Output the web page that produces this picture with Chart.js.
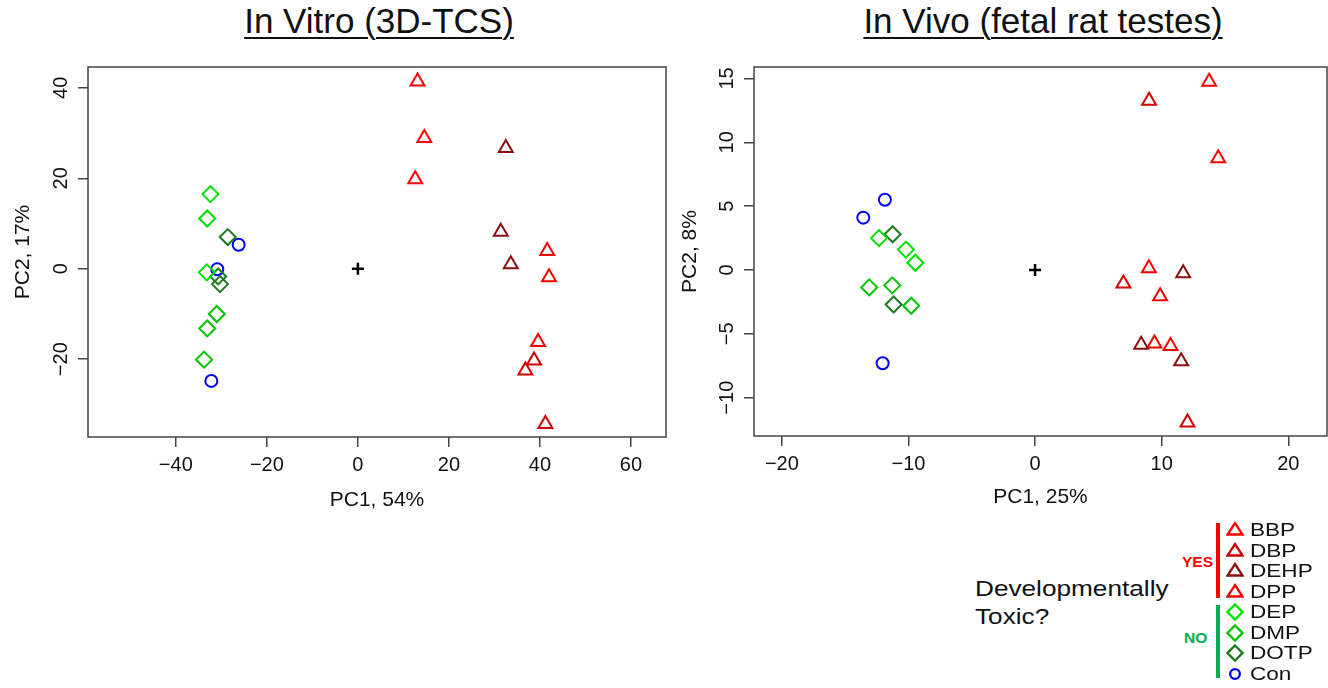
<!DOCTYPE html>
<html>
<head>
<meta charset="utf-8">
<script src="https://cdn.jsdelivr.net/npm/chart.js@4.4.0/dist/chart.umd.min.js"></script>
<style>
  body { margin: 0; background: #fff; width: 1328px; height: 688px; position: relative; overflow: hidden;
         font-family: "Liberation Sans", Arial, sans-serif; color: #111; }
  canvas { position: absolute; top: 0; }
  .title { position: absolute; top: 1px; font-size: 35px; line-height: 40px; white-space: nowrap;
           text-decoration: underline; text-decoration-thickness: 2px; text-underline-offset: 4px;
           transform: translateX(-50%); }
  .question { position: absolute; left: 975px; top: 575px; font-size: 22px; line-height: 28px;
              transform: scaleX(1.19); transform-origin: left top; }
  .bar { position: absolute; width: 4px; }
  .tag { position: absolute; font-weight: bold; font-size: 15.5px; line-height: 18px; }
  .lg-row { position: absolute; left: 1226px; height: 22px; display: flex; align-items: center; }
  .lg-row span { display: inline-block; margin-left: 6px; font-size: 18.5px; line-height: 22px;
                 transform: scaleX(1.22); transform-origin: left center; }
</style>
</head>
<body>
<div class="title" style="left:379px">In Vitro (3D-TCS)</div>
<div class="title" style="left:1043px">In Vivo (fetal rat testes)</div>
<canvas id="vitro" width="680" height="520" style="left:0"></canvas>
<canvas id="vivo" width="648" height="520" style="left:680px"></canvas>

<div class="question">Developmentally<br>Toxic?</div>
<div class="bar" style="left:1216px;top:523px;height:75px;background:#ff0000"></div>
<div class="bar" style="left:1216px;top:605px;height:73px;background:#00b050"></div>
<div class="tag" style="left:1182px;top:553px;color:#ff0000">YES</div>
<div class="tag" style="left:1184px;top:629px;color:#00b050">NO</div>
<div id="legend"></div>

<script>
// PCA scores, [PC1, PC2] per replicate
const groups = ['BBP', 'DBP', 'DEHP', 'DPP', 'DEP', 'DMP', 'DOTP', 'Con'];

const vitroBBP  = [[13.1, 41.4], [14.6, 28.9], [12.6, 19.8]];
const vitroDBP  = [[38.7, -20.3], [36.8, -22.5], [41.2, -34.3]];
const vitroDEHP = [[32.5, 26.7], [31.4, 8.2], [33.6, 1.0]];
const vitroDPP  = [[41.6, 3.9], [42.0, -1.9], [39.6, -16.2]];
const vitroDEP  = [[-32.4, 16.5], [-33.1, 11.1], [-33.2, -0.8]];
const vitroDMP  = [[-31.0, -10.0], [-33.1, -13.2], [-33.8, -20.1]];
const vitroDOTP = [[-28.6, 7.0], [-30.7, -1.7], [-30.3, -3.4]];
const vitroCon  = [[-26.2, 5.3], [-30.9, -0.1], [-32.2, -24.8]];

const vivoBBP  = [[13.75, 14.75], [14.47, 8.75], [8.99, 0.13]];
const vivoDBP  = [[9.01, 13.25], [6.98, -1.05], [12.04, -11.95]];
const vivoDEHP = [[11.7, -0.25], [8.38, -5.85], [11.54, -7.15]];
const vivoDPP  = [[9.88, -2.05], [9.43, -5.75], [10.7, -5.95]];
const vivoDEP  = [[-12.33, 2.5], [-10.2, 1.6], [-9.46, 0.57]];
const vivoDMP  = [[-13.1, -1.36], [-11.28, -1.2], [-9.78, -2.8]];
const vivoDOTP = [[-11.25, 2.8], [-11.17, -2.7]];
const vivoCon  = [[-11.86, 5.5], [-13.57, 4.1], [-12.04, -7.3]];

const origin = [[0, 0]];

const vitroXTicks = [-40, -20, 0, 20, 40, 60];
const vitroYTicks = [-20, 0, 20, 40];
const vivoXTicks = [-20, -10, 0, 10, 20];
const vivoYTicks = [-10, -5, 0, 5, 10, 15];

const vitroXRange = [-59.3, 67.7];
const vitroYRange = [-37.2, 44.6];
const vivoXRange = [-22.2, 23.06];
const vivoYRange = [-13.0, 15.9];

// marker look per group
const style = {
  BBP:  { color: '#ff0000', shape: 'triangle' },
  DBP:  { color: '#d10000', shape: 'triangle' },
  DEHP: { color: '#8b0f0f', shape: 'triangle' },
  DPP:  { color: '#f50000', shape: 'triangle' },
  DEP:  { color: '#00e000', shape: 'rectRot' },
  DMP:  { color: '#00c400', shape: 'rectRot' },
  DOTP: { color: '#1e7a1e', shape: 'rectRot' },
  Con:  { color: '#0000ff', shape: 'circle' }
};
const radius = { triangle: 8, rectRot: 8, circle: 6 };

const vitroSets = { BBP: vitroBBP, DBP: vitroDBP, DEHP: vitroDEHP, DPP: vitroDPP,
                    DEP: vitroDEP, DMP: vitroDMP, DOTP: vitroDOTP, Con: vitroCon };
const vivoSets = { BBP: vivoBBP, DBP: vivoDBP, DEHP: vivoDEHP, DPP: vivoDPP,
                   DEP: vivoDEP, DMP: vivoDMP, DOTP: vivoDOTP, Con: vivoCon };

const FONT = '"Liberation Sans", Arial, sans-serif';
const fmt = v => v < 0 ? '\u2212' + Math.abs(v) : String(v);

const toPoints = arr => arr.map(p => ({ x: p[0], y: p[1] }));

function buildDatasets(sets) {
  const ds = groups.map(g => ({
    label: g,
    data: toPoints(sets[g]),
    pointStyle: style[g].shape,
    pointRadius: radius[style[g].shape],
    pointBorderWidth: 2,
    pointBorderColor: style[g].color,
    pointBackgroundColor: 'rgba(0,0,0,0)',
    showLine: false
  }));
  ds.push({
    label: 'center',
    data: toPoints(origin),
    pointStyle: 'cross',
    pointRadius: 6,
    pointBorderWidth: 2.5,
    pointBorderColor: '#000',
    showLine: false
  });
  return ds;
}

// R-style frame round the plotting region
const boxPlugin = {
  id: 'box',
  beforeDatasetsDraw(chart) {
    const { ctx, chartArea: a } = chart;
    ctx.save();
    ctx.strokeStyle = '#444';
    ctx.lineWidth = 1.5;
    ctx.strokeRect(a.left, a.top, a.right - a.left, a.bottom - a.top);
    ctx.restore();
  }
};

function makeChart(id, sets, cfg) {
  const tickGrid = { drawOnChartArea: false, drawTicks: true, tickLength: 10, color: '#444', lineWidth: 1.5 };
  return new Chart(document.getElementById(id), {
    type: 'scatter',
    data: { datasets: buildDatasets(sets) },
    options: {
      responsive: false,
      animation: false,
      events: [],
      layout: { padding: cfg.padding, autoPadding: false },
      plugins: { legend: { display: false }, tooltip: { enabled: false } },
      scales: {
        x: {
          type: 'linear',
          min: cfg.xRange[0], max: cfg.xRange[1],
          afterBuildTicks: s => { s.ticks = cfg.xTicks.map(v => ({ value: v })); },
          afterFit: s => { s.height = cfg.xHeight; s.paddingLeft = 0; s.paddingRight = 0; },
          grid: tickGrid,
          border: { display: false },
          ticks: { font: { size: 20, family: FONT }, color: '#111', padding: 6, callback: fmt },
          title: { display: true, text: cfg.xTitle, color: '#111',
                   font: { size: 21, family: FONT, lineHeight: 1 }, padding: { top: 0, bottom: cfg.xTitlePad } }
        },
        y: {
          type: 'linear',
          min: cfg.yRange[0], max: cfg.yRange[1],
          afterBuildTicks: s => { s.ticks = cfg.yTicks.map(v => ({ value: v })); },
          afterFit: s => { s.width = cfg.yWidth; s.paddingTop = 0; s.paddingBottom = 0; },
          grid: tickGrid,
          border: { display: false },
          ticks: { font: { size: 20, family: FONT }, color: '#111', padding: cfg.yTickPad,
                   minRotation: 90, maxRotation: 90, crossAlign: 'center', callback: fmt },
          title: { display: true, text: cfg.yTitle, color: '#111',
                   font: { size: 21, family: FONT, lineHeight: 1 }, padding: { top: cfg.yTitlePad, bottom: 0 } }
        }
      }
    },
    plugins: [boxPlugin]
  });
}

makeChart('vitro', vitroSets, {
  padding: { top: 67, right: 14, left: 0, bottom: 0 },
  xRange: vitroXRange, yRange: vitroYRange, xTicks: vitroXTicks, yTicks: vitroYTicks,
  xHeight: 83, yWidth: 88, yTickPad: 0, xTitle: 'PC1, 54%', yTitle: 'PC2, 17%',
  xTitlePad: 9.5, yTitlePad: 12.5
});

makeChart('vivo', vivoSets, {
  padding: { top: 67, right: 1, left: 0, bottom: 0 },
  xRange: vivoXRange, yRange: vivoYRange, xTicks: vivoXTicks, yTicks: vivoYTicks,
  xHeight: 84, yWidth: 74, yTickPad: 0, xTitle: 'PC1, 25%', yTitle: 'PC2, 8%',
  xTitlePad: 12.5, yTitlePad: 0
});

// legend rows
function markerSvg(s) {
  let shape;
  if (s.shape === 'triangle') shape = `<polygon points="9,4 16.5,15.5 1.5,15.5" />`;
  else if (s.shape === 'rectRot') shape = `<polygon points="9,3.5 16.5,11 9,18.5 1.5,11" />`;
  else shape = `<circle cx="9" cy="11" r="4.8" />`;
  return `<svg width="18" height="22" viewBox="0 0 18 22" fill="none" stroke="${s.color}" stroke-width="2.3">${shape}</svg>`;
}

const legendBox = document.getElementById('legend');
const legendTop = 530, legendStep = 20.5;
groups.forEach((g, i) => {
  const row = document.createElement('div');
  row.className = 'lg-row';
  row.style.top = (legendTop + i * legendStep - 11) + 'px';
  row.innerHTML = markerSvg(style[g]) + `<span>${g}</span>`;
  legendBox.appendChild(row);
});
</script>
</body>
</html>
